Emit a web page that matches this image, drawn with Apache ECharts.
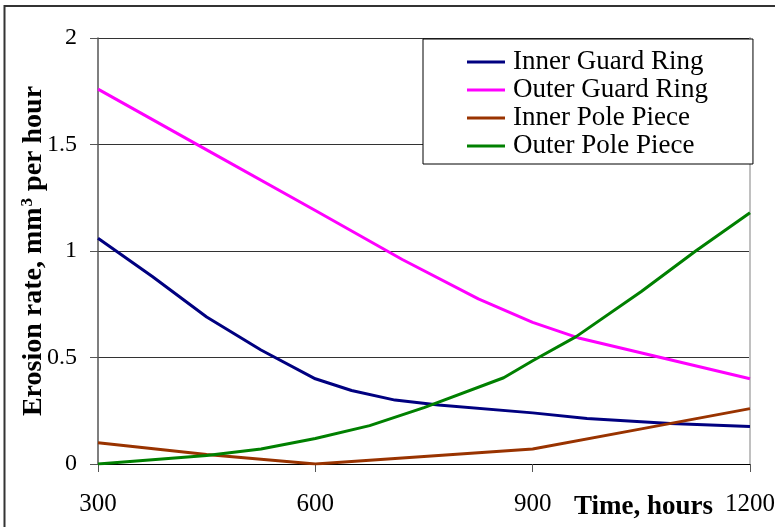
<!DOCTYPE html>
<html>
<head>
<meta charset="utf-8">
<script src="https://cdn.jsdelivr.net/npm/echarts@6/dist/echarts.min.js"></script>
<style>
  html, body { margin: 0; padding: 0; background: #ffffff; }
  #chart { width: 775px; height: 527px; }
</style>
</head>
<body>
<div id="chart"></div>
<script>
// Erosion rate of thruster components versus operating time
const xTicks = [300, 600, 900, 1200];
const yTicks = [0, 0.5, 1, 1.5, 2];

const seriesNames = ['Inner Guard Ring', 'Outer Guard Ring', 'Inner Pole Piece', 'Outer Pole Piece'];
const seriesColors = ['#000080', '#ff00ff', '#993300', '#008000'];

const innerGuardHours = [300, 375, 450, 525, 600, 650, 710, 770, 900, 975, 1090, 1200];
const innerGuardRate  = [1.06, 0.88, 0.69, 0.535, 0.40, 0.345, 0.30, 0.277, 0.24, 0.214, 0.19, 0.176];

const outerGuardHours = [300, 450, 600, 720, 825, 900, 965, 1200];
const outerGuardRate  = [1.76, 1.475, 1.19, 0.96, 0.775, 0.665, 0.59, 0.40];

const innerPoleHours = [300, 450, 600, 750, 900, 1050, 1200];
const innerPoleRate  = [0.10, 0.045, 0.0, 0.035, 0.07, 0.165, 0.26];

const outerPoleHours = [300, 450, 525, 600, 675, 750, 860, 900, 960, 1050, 1125, 1200];
const outerPoleRate  = [0.0, 0.04, 0.07, 0.12, 0.18, 0.265, 0.405, 0.485, 0.598, 0.81, 1.0, 1.18];

const hoursList = [innerGuardHours, outerGuardHours, innerPoleHours, outerPoleHours];
const rateList = [innerGuardRate, outerGuardRate, innerPoleRate, outerPoleRate];

const serif = "'Liberation Serif', 'Times New Roman', serif";

const chart = echarts.init(document.getElementById('chart'), null, { renderer: 'canvas' });

const series = seriesNames.map((name, i) => ({
  name: name,
  type: 'line',
  data: hoursList[i].map((h, k) => [h, rateList[i][k]]),
  showSymbol: false,
  smooth: false,
  lineStyle: { color: seriesColors[i], width: 3 },
  itemStyle: { color: seriesColors[i] },
  z: 3
}));

chart.setOption({
  animation: false,
  backgroundColor: '#ffffff',
  grid: { left: 98, right: 25, top: 38, bottom: 63, containLabel: false, outerBoundsMode: 'none' },
  legend: {
    orient: 'vertical',
    left: 423,
    top: 39,
    padding: [9, 45, 4, 44],
    itemGap: 0,
    itemWidth: 38,
    itemHeight: 3,
    icon: 'rect',
    backgroundColor: '#ffffff',
    borderColor: '#000000',
    borderWidth: 1,
    textStyle: { fontFamily: serif, fontSize: 27, color: '#000000', lineHeight: 28, padding: [0, 0, 0, 3] },
    data: seriesNames
  },
  xAxis: {
    type: 'value',
    min: xTicks[0],
    max: xTicks[xTicks.length - 1],
    interval: xTicks[1] - xTicks[0],
    axisLine: { show: true, onZero: false, lineStyle: { color: '#000000', width: 1 } },
    axisTick: { show: true, inside: false, length: 8, lineStyle: { color: '#555555', width: 1 } },
    axisLabel: { fontFamily: serif, fontSize: 25, color: '#000000', margin: 28, formatter: (v) => String(v) },
    splitLine: { show: false }
  },
  yAxis: [
    {
      type: 'value',
      min: yTicks[0],
      max: yTicks[yTicks.length - 1],
      interval: yTicks[1] - yTicks[0],
      axisLine: { show: true, lineStyle: { color: '#555555', width: 1.5 } },
      axisTick: { show: true, inside: false, length: 8, lineStyle: { color: '#555555', width: 1 } },
      axisLabel: { fontFamily: serif, fontSize: 24, color: '#000000', margin: 21, formatter: (v) => String(v) },
      splitLine: { show: true, lineStyle: { color: '#333333', width: 1 } },
      name: '{b|Erosion rate, mm}{sup|3}{b| per hour}',
      nameLocation: 'middle',
      nameRotate: 90,
      nameGap: 49,
      nameMoveOverlap: false,
      nameTextStyle: {
        rich: {
          b: { fontFamily: serif, fontSize: 28, fontWeight: 'bold', color: '#000000', lineHeight: 30 },
          sup: { fontFamily: serif, fontSize: 17, fontWeight: 'bold', color: '#000000', verticalAlign: 'top', padding: [0, 0, 0, 1] }
        }
      }
    },
    {
      type: 'value',
      position: 'right',
      min: yTicks[0],
      max: yTicks[yTicks.length - 1],
      interval: yTicks[1] - yTicks[0],
      axisLine: { show: true, lineStyle: { color: '#c0c0c0', width: 2 } },
      axisTick: { show: false },
      axisLabel: { show: false },
      splitLine: { show: false }
    }
  ],
  graphic: [
    {
      type: 'rect',
      shape: { x: 4.5, y: 6, width: 820, height: 600 },
      style: { fill: 'none', stroke: '#333333', lineWidth: 2 },
      silent: true,
      z: 10
    },
    {
      type: 'text',
      left: 574,
      top: 494,
      style: { text: 'Time, hours', font: 'bold 27px ' + serif, fill: '#000000' },
      z: 10
    }
  ],
  series: series
});
</script>
</body>
</html>
